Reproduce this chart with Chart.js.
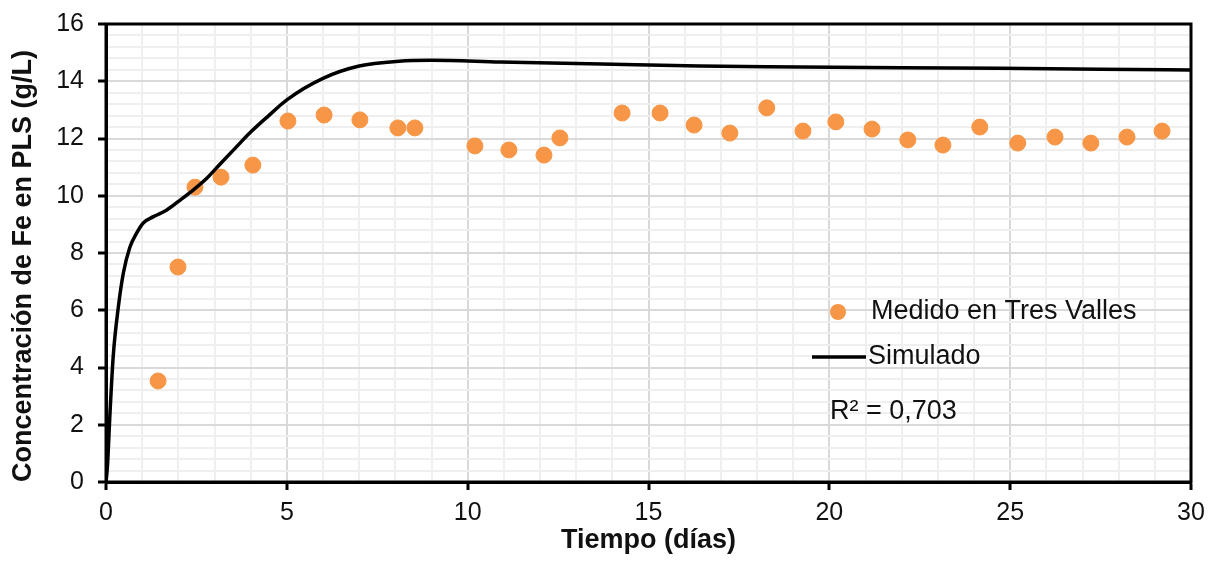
<!DOCTYPE html>
<html>
<head>
<meta charset="utf-8">
<script src="https://cdn.jsdelivr.net/npm/chart.js@4.4.1/dist/chart.umd.min.js"></script>
<style>
  html, body { margin: 0; padding: 0; background: #fff; }
  canvas { display: block; }
</style>
</head>
<body>
<canvas id="chart" width="1212" height="566"></canvas>
<script>
// Measured Fe concentration (days, g/L)
const medidoDias = [1.44, 1.99, 2.46, 3.18, 4.06, 5.03, 6.03, 7.02, 8.07, 8.54, 10.2, 11.14, 12.11, 12.55, 14.27, 15.32, 16.26, 17.25, 18.27, 19.27, 20.18, 21.18, 22.17, 23.14, 24.16, 25.21, 26.24, 27.23, 28.23, 29.2];
const medidoFe = [3.53, 7.51, 10.3, 10.65, 11.07, 12.61, 12.82, 12.65, 12.37, 12.37, 11.74, 11.6, 11.42, 12.02, 12.89, 12.89, 12.47, 12.19, 13.07, 12.26, 12.58, 12.33, 11.95, 11.77, 12.4, 11.84, 12.05, 11.84, 12.05, 12.26];

// Simulated curve
const simDias = [0, 0.04, 0.11, 0.2, 0.34, 0.48, 0.66, 0.85, 1.03, 1.31, 1.68, 2.05, 2.41, 2.78, 3.15, 3.6, 3.98, 4.5, 5.0, 6.0, 7.0, 8.1, 9.0, 10.9, 13.7, 16.4, 19.2, 22, 24.7, 27.5, 30];
const simFe = [0, 0.55, 2.4, 4.4, 6.1, 7.3, 8.2, 8.7, 9.05, 9.27, 9.5, 9.85, 10.2, 10.6, 11.1, 11.7, 12.2, 12.8, 13.35, 14.1, 14.53, 14.7, 14.73, 14.67, 14.6, 14.53, 14.5, 14.47, 14.45, 14.42, 14.39];

const r2Text = 'R\u00B2 = 0,703';
const FONT = "'Liberation Sans', Arial, sans-serif";
const ORANGE = '#F79646';

const isMajor = (v, step) => Math.abs(v / step - Math.round(v / step)) < 1e-6;

// frame on top/right + legend block inside the plot
const framePlugin = {
  id: 'frame',
  afterDraw(chart) {
    const { ctx, chartArea: a } = chart;
    ctx.save();
    ctx.strokeStyle = '#000';
    ctx.lineWidth = 3;
    ctx.strokeRect(a.left, a.top, a.right - a.left, a.bottom - a.top);

    ctx.font = `27px ${FONT}`;
    ctx.textBaseline = 'middle';
    ctx.textAlign = 'left';
    const lx = a.left + 706;
    const ly = a.top + 288;
    ctx.beginPath();
    ctx.fillStyle = ORANGE;
    ctx.arc(lx + 26, ly, 8, 0, Math.PI * 2);
    ctx.fill();
    ctx.fillStyle = '#111';
    ctx.fillText('Medido en Tres Valles', lx + 59, ly);

    ctx.beginPath();
    ctx.strokeStyle = '#000';
    ctx.lineWidth = 3.5;
    ctx.moveTo(lx, ly + 45);
    ctx.lineTo(lx + 54, ly + 45);
    ctx.stroke();
    ctx.fillText('Simulado', lx + 56, ly + 45);

    ctx.fillText(r2Text, lx + 18, ly + 100);
    ctx.restore();
  }
};

new Chart(document.getElementById('chart'), {
  type: 'scatter',
  data: {
    datasets: [
      {
        label: 'Simulado',
        type: 'line',
        data: simDias.map((x, i) => ({ x, y: simFe[i] })),
        borderColor: '#000',
        borderWidth: 3.5,
        pointRadius: 0,
        cubicInterpolationMode: 'monotone',
        fill: false,
        order: 0
      },
      {
        label: 'Medido en Tres Valles',
        data: medidoDias.map((x, i) => ({ x, y: medidoFe[i] })),
        backgroundColor: ORANGE,
        borderColor: ORANGE,
        pointRadius: 8,
        pointHoverRadius: 8,
        order: 1
      }
    ]
  },
  options: {
    responsive: false,
    animation: false,
    layout: { padding: { top: 24, right: 21, left: 0, bottom: 0 } },
    plugins: { legend: { display: false }, tooltip: { enabled: false } },
    scales: {
      x: {
        type: 'linear',
        min: 0, max: 30,
        afterFit: s => { s.height = 84; s.paddingLeft = 0; s.paddingRight = 0; },
        ticks: {
          stepSize: 1, autoSkip: false, maxRotation: 0, padding: 8,
          color: '#111', font: { family: FONT, size: 25 },
          callback: v => isMajor(v, 5) ? v : ''
        },
        grid: {
          lineWidth: 2,
          color: c => isMajor(c.tick.value, 5) ? '#d9d9d9' : '#efefef',
          tickColor: c => isMajor(c.tick.value, 5) ? '#000' : 'rgba(0,0,0,0)',
          tickLength: 8,
          tickWidth: 3
        },
        border: { color: '#000', width: 3 },
        title: {
          display: true, text: 'Tiempo (días)', color: '#111',
          font: { family: FONT, size: 27, weight: 'bold' },
          padding: { bottom: 9, top: 0 }
        }
      },
      y: {
        min: 0, max: 16,
        afterFit: s => { s.width = 106; s.paddingTop = 0; s.paddingBottom = 0; },
        ticks: {
          stepSize: 0.4, autoSkip: false, padding: 14,
          color: '#111', font: { family: FONT, size: 25 },
          callback: v => isMajor(v, 2) ? Math.round(v) : ''
        },
        grid: {
          lineWidth: 2,
          color: c => isMajor(c.tick.value, 2) ? '#d9d9d9' : '#efefef',
          tickColor: c => isMajor(c.tick.value, 2) ? '#000' : 'rgba(0,0,0,0)',
          tickLength: 8,
          tickWidth: 3
        },
        border: { color: '#000', width: 3 },
        title: {
          display: true, text: 'Concentración de Fe en PLS (g/L)', color: '#111',
          align: 'start',
          font: { family: FONT, size: 27, weight: 'bold' },
          padding: { top: 7, bottom: 0 }
        }
      }
    }
  },
  plugins: [framePlugin]
});
</script>
</body>
</html>
